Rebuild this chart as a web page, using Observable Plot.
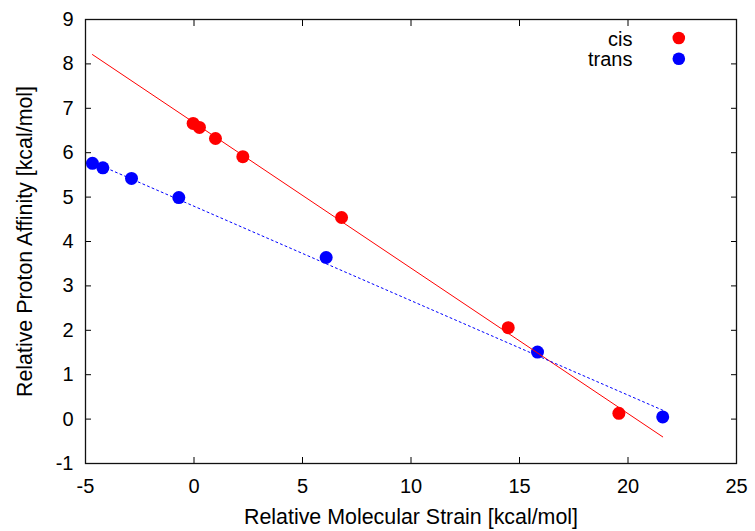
<!DOCTYPE html>
<html>
<head>
<meta charset="utf-8">
<script src="https://cdn.jsdelivr.net/npm/d3@7"></script>
<script src="https://cdn.jsdelivr.net/npm/@observablehq/plot@0.6"></script>
<style>
  html, body { margin: 0; padding: 0; background: #fff; }
</style>
</head>
<body>
<div id="chart"></div>
<script>
// Data
const cisX = [-0.04, 0.25, 0.99, 2.25, 6.80, 14.48, 19.58];
const cisY = [6.66, 6.57, 6.32, 5.91, 4.54, 2.06, 0.13];
const transX = [-4.68, -4.20, -2.88, -0.70, 6.09, 15.83, 21.60];
const transY = [5.76, 5.66, 5.42, 4.99, 3.64, 1.51, 0.05];

// fitted lines (end points)
const cisFitX = [-4.68, 21.6];
const cisFitY = [8.21, -0.40];
const transFitX = [-4.68, 21.6];
const transFitY = [5.79, 0.20];

const xTicks = [-5, 0, 5, 10, 15, 20, 25];
const yTicks = [-1, 0, 1, 2, 3, 4, 5, 6, 7, 8, 9];
const seriesNames = ["cis", "trans"];
const seriesColors = ["#ff0000", "#0000ff"];

const xLabel = "Relative Molecular Strain [kcal/mol]";
const yLabel = "Relative Proton Affinity [kcal/mol]";

const toRows = (xs, ys) => xs.map((x, i) => ({x, y: ys[i]}));
const cis = toRows(cisX, cisY);
const trans = toRows(transX, transY);
const cisFit = toRows(cisFitX, cisFitY);
const transFit = toRows(transFitX, transFitY);

const legendMarks = seriesNames.flatMap((name, i) => [
  Plot.text([name], {text: d => d, frameAnchor: "top-right", textAnchor: "end", lineAnchor: "middle",
                     dx: -104, dy: 19.6 + i * 20.4, fontSize: 20, fill: "black"}),
  Plot.dot([name], {frameAnchor: "top-right", dx: -57.7, dy: 18.5 + i * 20.8, r: 6.3, fill: seriesColors[i], stroke: "none"})
]);

const fmt = d => String(d);

const chart = Plot.plot({
  width: 755,
  height: 531,
  marginLeft: 85,
  marginRight: 19,
  marginTop: 19,
  marginBottom: 68,
  style: {fontFamily: "'Liberation Sans', Arial, sans-serif", fontSize: "20px", background: "white", color: "black"},
  x: {domain: [-5, 25]},
  y: {domain: [-1, 9]},
  marks: [
    // inward ticks on all four sides
    Plot.axisX(xTicks, {anchor: "bottom", tickSize: 6, dy: -6, text: null, label: null}),
    Plot.axisX(xTicks, {anchor: "top", tickSize: 6, dy: 6, text: null, label: null}),
    Plot.axisY(yTicks, {anchor: "left", tickSize: 6, dx: 6, text: null, label: null}),
    Plot.axisY(yTicks, {anchor: "right", tickSize: 6, dx: -6, text: null, label: null}),
    // tick labels
    Plot.axisX(xTicks, {anchor: "bottom", tickSize: 0, tickPadding: 15, fontSize: 20, tickFormat: fmt, label: null}),
    Plot.axisY(yTicks, {anchor: "left", tickSize: 0, tickPadding: 12, fontSize: 20, tickFormat: fmt, label: null}),
    // axis titles
    Plot.text([xLabel], {text: d => d, frameAnchor: "bottom", dy: 54, textAnchor: "middle", lineAnchor: "middle", fontSize: 21.4}),
    Plot.text([yLabel], {text: d => d, frameAnchor: "left", dx: -60, rotate: -90, textAnchor: "middle", lineAnchor: "middle", fontSize: 21.4}),
    // data points
    Plot.dot(cis, {x: "x", y: "y", r: 6.5, fill: seriesColors[0], stroke: "none"}),
    Plot.dot(trans, {x: "x", y: "y", r: 6.5, fill: seriesColors[1], stroke: "none"}),
    // fit lines
    Plot.line(cisFit, {x: "x", y: "y", stroke: seriesColors[0], strokeWidth: 1}),
    Plot.line(transFit, {x: "x", y: "y", stroke: seriesColors[1], strokeWidth: 1, strokeDasharray: "2,3"}),
    ...legendMarks,
    Plot.frame({stroke: "#111", strokeWidth: 1.3})
  ]
});
document.getElementById("chart").appendChild(chart);
</script>
</body>
</html>
